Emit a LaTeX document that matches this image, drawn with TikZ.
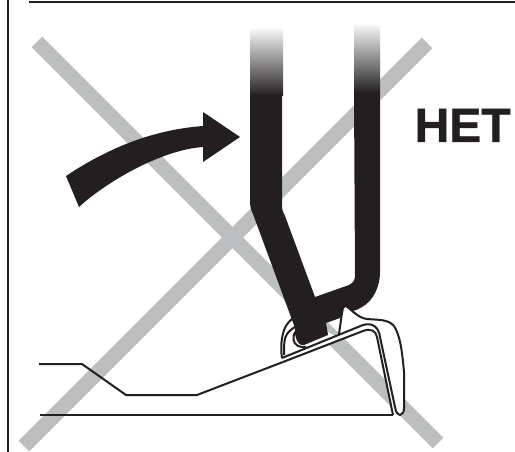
\documentclass[tikz,border=0pt]{standalone}
\usepackage{fontspec}
\setmainfont{Liberation Sans}
\newfontfamily\hetfont[BoldFeatures={FakeBold=1}]{Liberation Sans}
\definecolor{ink}{HTML}{231F20}
\definecolor{band}{HTML}{BCBEC0}
\tikzset{
  crossband/.style={draw=band,line width=15pt},
  thinline/.style={draw=ink,line width=2pt,line join=round},
  fadetube/.style={top color=black!5,bottom color=ink,draw=none},
}
\begin{document}
\begin{tikzpicture}[x=1pt,y=-1pt]
\useasboundingbox (0,0) rectangle (515,452);
% frame
\draw[ink,line width=2pt] (8,0) -- (8,452);
\draw[ink,line width=2.2pt] (29,2.2) -- (515,2.2);
% cross
\draw[crossband] (37,42) -- (438,443);
\draw[crossband] (427,43) -- (24,446);
% ground
\draw[thinline] (39,364) -- (82,364) -- (126,395) -- (197,395) -- (283,362);
\draw[thinline] (40,415) -- (393,415);
% clip hook (behind the tube)
\path[fill=white] (282,358) .. controls (280,345) and (282,330) .. (288,323)
  .. controls (291,319) and (295,317) .. (299,316) -- (335,336) -- cycle;
\draw[thinline] (282,358) .. controls (280,345) and (282,330) .. (288,323)
  .. controls (291,319) and (295,317) .. (299,316);
\draw[thinline] (284,355) .. controls (284,345) and (284,338) .. (287,334)
  .. controls (290,330) and (294,327) .. (299,325);
\draw[thinline] (295,332) .. controls (292,338) and (293,343) .. (298,346)
  .. controls (300,347) and (303,347) .. (306,347);
% tubes: fading tops
\path[fadetube] (250,30) rectangle (283,96);
\path[fadetube] (354,26) rectangle (380,93);
% tube body
\path[fill=ink] (250,94) -- (282,94) -- (282,205)
  .. controls (282,210) and (283,212) .. (285,216)
  -- (315,297) -- (349,285) .. controls (353,283) and (355,280) .. (355,276)
  -- (354,92) -- (380,92) -- (380,272)
  .. controls (380,287) and (373,301) .. (362,307)
  .. controls (356,311) and (349,312) .. (343,313)
  -- (340,318) -- (326,323) -- (328,335) -- (304,345)
  .. controls (299,347) and (294,338) .. (295,328)
  -- (253,214) .. controls (251,210) and (250,207) .. (250,200) -- cycle;
% clip body (in front of the tube)
\path[fill=white] (283,362) -- (363,331) .. controls (371,328) and (376,331) .. (377,337)
  -- (393,415) -- (400,415)
  .. controls (403,414) and (404,412) .. (404,408) -- (404,372)
  .. controls (402,350) and (400,335) .. (394,326)
  .. controls (388,319) and (378,320) .. (367,319)
  .. controls (358,318) and (352,310) .. (346,306)
  .. controls (343,306) and (342,310) .. (342,313) -- (339,334) -- (282,358) -- cycle;
\draw[thinline] (283,362) -- (363,331) .. controls (371,328) and (376,331) .. (377,337) -- (393,415);
\draw[thinline] (282,358) -- (363,325) .. controls (373,322) and (379,328) .. (380,337)
  -- (395,407) .. controls (396,413) and (398,415) .. (400,415)
  .. controls (403,414) and (404,412) .. (404,408) -- (404,372)
  .. controls (402,350) and (400,335) .. (394,326)
  .. controls (388,319) and (378,320) .. (367,319)
  .. controls (358,318) and (352,310) .. (346,306)
  .. controls (343,306) and (342,310) .. (342,313) -- (339,334);
% curved arrow
\path[fill=ink] (66,176) .. controls (105,150) and (150,130) .. (203,126)
  -- (203,112) -- (240,137) -- (203,162) -- (203,147)
  .. controls (160,150) and (105,183) .. (79,207) -- cycle;
% label
\node[anchor=base west,inner sep=0pt,text=ink,font=\hetfont\fontsize{48}{50}\selectfont\bfseries] (het) at (414.5,142) {HET};
\end{tikzpicture}
\end{document}
